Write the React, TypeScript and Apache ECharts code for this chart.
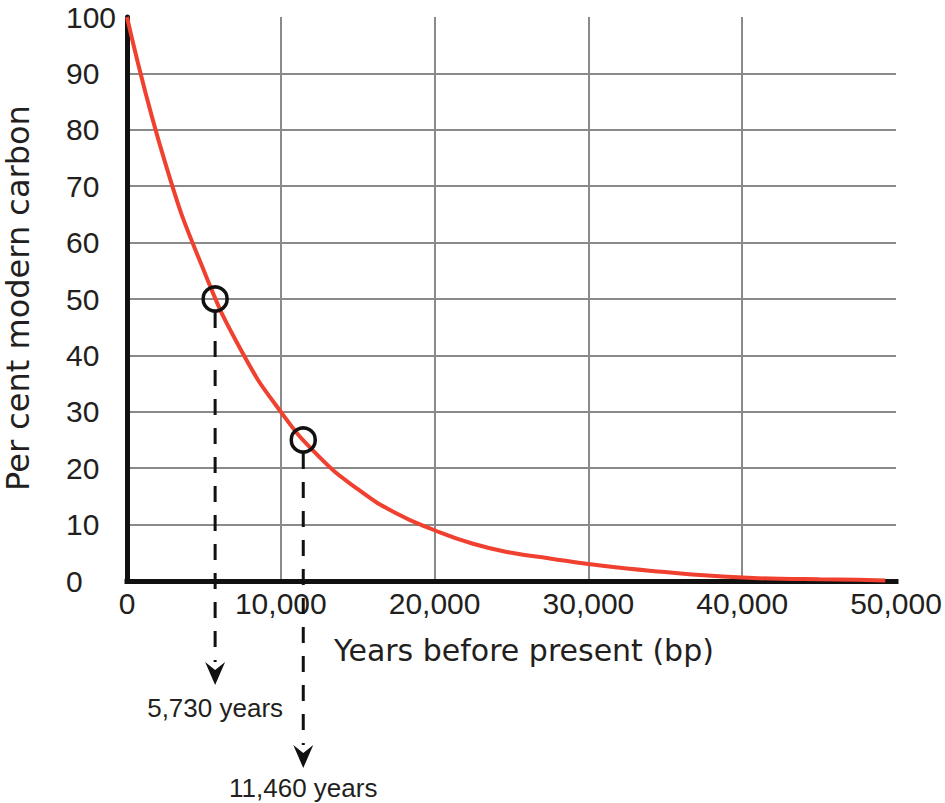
import React, { useEffect, useRef } from "react";
import * as echarts from "echarts";

// Decay curve
const years = [0, 2500, 5000, 7500, 10000, 12500, 15000, 17500, 20000, 22500, 25000, 27500, 30000, 32500, 35000, 37500, 40000, 42500, 45000, 47500, 49300];
const percentCarbon = [100, 74, 55, 40.5, 30, 22, 16.3, 12, 9, 6.6, 5, 4, 3, 2.2, 1.6, 1, 0.6, 0.4, 0.3, 0.2, 0.1];

// Half-life markers
const halfLifeYears = [5730, 11460];
const halfLifePercent = [50, 25];
const halfLifeLabels = ["5,730 years", "11,460 years"];

// Axes
const xMin = 0;
const xMax = 50000;
const xStep = 10000;
const yMin = 0;
const yMax = 100;
const yStep = 10;
const xTitle = "Years before present (bp)";
const yTitle = "Per cent modern carbon";

const TEXT = "#231f20";

export default function App() {
  const ref = useRef<HTMLDivElement>(null);
  useEffect(() => {
    if (!ref.current) return;
    const chart = echarts.init(ref.current, null, { renderer: "svg" });
    chart.setOption({
      animation: false,
      grid: { left: 127, right: 49, top: 17, bottom: 222, containLabel: false },
      xAxis: {
        type: "value",
        min: xMin,
        max: xMax,
        interval: xStep,
        axisLine: { show: true, onZero: false, lineStyle: { color: "#111", width: 5, cap: "square" } },
        axisTick: { show: false },
        axisLabel: {
          margin: 7,
          color: TEXT,
          fontFamily: "Liberation Sans",
          fontSize: 30,
          formatter: (v: number) => v.toLocaleString("en-US"),
        },
        splitLine: { show: true, showMinLine: false, showMaxLine: false, lineStyle: { color: "#8a8a8a", width: 2 } },
      },
      yAxis: {
        type: "value",
        min: yMin,
        max: yMax,
        interval: yStep,
        axisLine: { show: true, onZero: false, lineStyle: { color: "#111", width: 5 } },
        axisTick: { show: false },
        axisLabel: {
          margin: 61,
          align: "left",
          color: TEXT,
          fontFamily: "Liberation Sans",
          fontSize: 30,
        },
        splitLine: { show: true, showMinLine: false, showMaxLine: false, lineStyle: { color: "#8a8a8a", width: 2 } },
      },
      series: [
        {
          type: "line",
          data: years.map((x, i) => [x, percentCarbon[i]]),
          smooth: 0.5,
          showSymbol: false,
          lineStyle: { color: "#f0402f", width: 4 },
          z: 3,
        },
        {
          type: "scatter",
          data: halfLifeYears.map((x, i) => [x, halfLifePercent[i]]),
          symbol: "circle",
          symbolSize: 24,
          itemStyle: { color: "rgba(0,0,0,0)", borderColor: "#111", borderWidth: 3.5, opacity: 1 },
          z: 4,
        },
      ],
    });

    const axisY = chart.convertToPixel({ gridIndex: 0 }, [0, 0])[1];
    const arrowTopOffset = [81, 164];
    const labelOffset = [127, 207];
    const graphics: any[] = [];
    halfLifeYears.forEach((x, i) => {
      const p = chart.convertToPixel({ gridIndex: 0 }, [x, halfLifePercent[i]]);
      const cx = p[0];
      const top = axisY + arrowTopOffset[i];
      graphics.push({
        type: "line",
        shape: { x1: cx, y1: p[1] + 13, x2: cx, y2: top },
        style: { stroke: "#111", lineWidth: 3, lineDash: [16, 13] },
        z: 5,
      });
      graphics.push({
        type: "polygon",
        shape: { points: [[cx - 10, top], [cx, top + 8], [cx + 10, top], [cx, top + 23]] },
        style: { fill: "#111" },
        z: 5,
      });
      graphics.push({
        type: "text",
        x: cx,
        y: axisY + labelOffset[i],
        style: {
          text: halfLifeLabels[i],
          fill: TEXT,
          font: "26px 'Liberation Sans'",
          align: "center",
          verticalAlign: "middle",
        },
        z: 5,
      });
    });
    graphics.push({
      type: "text",
      x: 524,
      y: 650,
      style: { text: xTitle, fill: TEXT, font: "30px 'DejaVu Sans'", align: "center", verticalAlign: "middle" },
    });
    graphics.push({
      type: "text",
      x: 18,
      y: 298,
      rotation: Math.PI / 2,
      style: { text: yTitle, fill: TEXT, font: "32px 'DejaVu Sans'", align: "center", verticalAlign: "middle" },
    });
    chart.setOption({ graphic: graphics });

    return () => chart.dispose();
  }, []);
  return <div ref={ref} style={{ position: "fixed", left: 0, top: 0, width: 945, height: 803, background: "#fff" }} />;
}
